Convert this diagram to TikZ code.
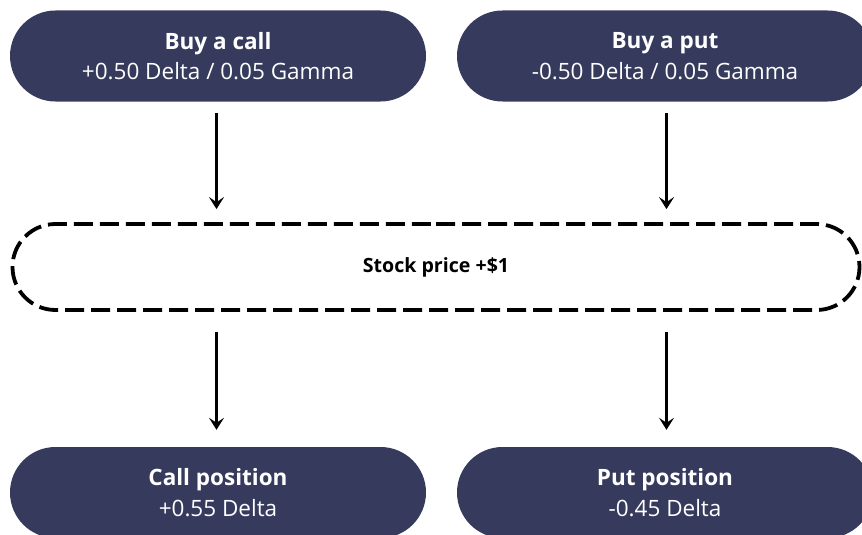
\documentclass[tikz,border=0pt]{standalone}
\usepackage{fontspec}
\setmainfont{Open Sans}
\usetikzlibrary{shapes.misc,arrows.meta}
\definecolor{navy}{HTML}{363B5D}
\begin{document}
\begin{tikzpicture}[x=1pt,y=1pt,
  pill/.style={rounded rectangle, fill=navy, text=white, minimum width=416pt, minimum height=91pt, inner sep=0pt, align=center, font=\fontsize{22.5}{30.5}\selectfont},
  dashbox/.style={rounded rectangle, draw=black, line width=3.8pt, dash pattern=on 19pt off 7pt, minimum width=847pt, minimum height=86pt, inner sep=0pt, font=\fontsize{19.6}{22}\selectfont\bfseries},
  arr/.style={line width=3.6pt, -{Stealth[length=12pt,width=15pt,inset=5pt]}}]
\useasboundingbox (0,0) rectangle (862,-535);
\clip (0,0) rectangle (862,-535);
\node[pill] (call) at (218,-56) {\textbf{Buy a call}\\+0.50 Delta / 0.05 Gamma};
\node[pill] (put) at (665,-56) {\textbf{Buy a put}\\-0.50 Delta / 0.05 Gamma};
\node[dashbox] (stock) at (436,-267) {Stock price +\$1};
\node[pill] (callpos) at (218,-492.5) {\textbf{Call position}\\+0.55 Delta};
\node[pill] (putpos) at (665,-492.5) {\textbf{Put position}\\-0.45 Delta};
\coordinate (a1) at (216.5,-113);
\coordinate (a2) at (666.5,-113);
\coordinate (b1) at (216.5,-332);
\coordinate (b2) at (666.5,-332);
\draw[arr] (a1) -- (a1 |- stock.north) [shorten >=13pt];
\draw[arr] (a2) -- (a2 |- stock.north) [shorten >=13pt];
\draw[arr] (b1) -- (b1 |- callpos.north) [shorten >=17pt];
\draw[arr] (b2) -- (b2 |- putpos.north) [shorten >=17pt];
\end{tikzpicture}
\end{document}
